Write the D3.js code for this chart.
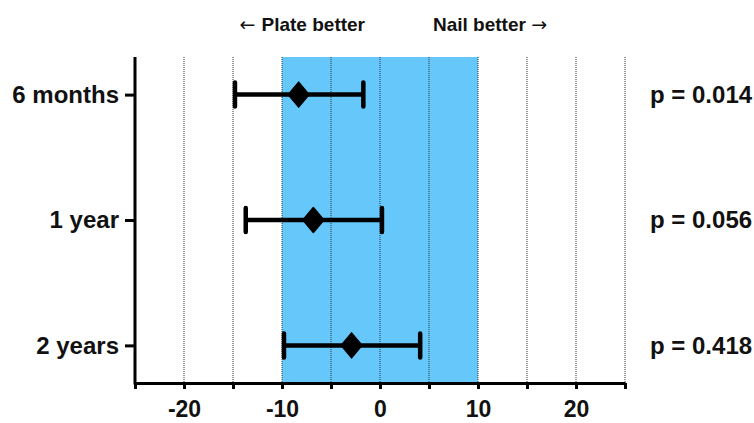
<!DOCTYPE html>
<html>
<head>
<meta charset="utf-8">
<script src="https://cdn.jsdelivr.net/npm/d3@7"></script>
<style>
  body { margin: 0; background: #fff; }
  svg text { font-family: "Liberation Sans", Arial, Helvetica, sans-serif; font-weight: bold; fill: #111; }
</style>
</head>
<body>
<div id="vis"></div>
<script>

var width = 754;
var height = 423;

// data
var periods = ['6 months', '1 year', '2 years'];
var means   = [-8.3, -6.8, -2.9];
var lower   = [-14.8, -13.7, -9.8];
var upper   = [-1.7, 0.2, 4.1];
var pValues = ['p = 0.014', 'p = 0.056', 'p = 0.418'];

var xDomain = [-25, 25];
var xTicks = d3.range(-25, 26, 5);
var band = [-10, 10];

var margin = { top: 57, left: 135, right: 129, bottom: 40 };
var plotBottom = 383;

var svg = d3.select('#vis')
    .append('svg')
    .attr('width', width)
    .attr('height', height);

var x = d3.scaleLinear()
    .domain(xDomain)
    .range([margin.left, width - margin.right]);

var y = d3.scalePoint()
    .domain(periods)
    .range([margin.top, plotBottom])
    .padding(0.3);

var rows = periods.map(function (p, i) {
    return { name: p, mean: means[i], lo: lower[i], hi: upper[i], p: pValues[i] };
});

// shaded equivalence band
svg.append('rect')
    .attr('x', x(band[0]))
    .attr('y', margin.top)
    .attr('width', x(band[1]) - x(band[0]))
    .attr('height', plotBottom - margin.top)
    .attr('fill', '#66c7fa');

// dotted grid lines
svg.selectAll('.grid')
    .data(xTicks.filter(function (d) { return d > xDomain[0]; }))
    .enter().append('line')
    .attr('class', 'grid')
    .attr('x1', function (d) { return x(d); })
    .attr('x2', function (d) { return x(d); })
    .attr('y1', margin.top)
    .attr('y2', plotBottom)
    .attr('stroke', '#333')
    .attr('stroke-width', 1)
    .attr('stroke-dasharray', '1,1');

// x axis
var xAxis = svg.append('g')
    .attr('transform', 'translate(0,' + plotBottom + ')')
    .call(d3.axisBottom(x)
        .tickValues(xTicks)
        .tickSize(6)
        .tickSizeOuter(0)
        .tickPadding(12)
        .tickFormat(function (d) { return (d % 10 === 0) ? d : ''; }));

xAxis.select('.domain').attr('stroke', '#000').attr('stroke-width', 3);
xAxis.selectAll('.tick line').attr('stroke', '#000').attr('stroke-width', 3);
xAxis.selectAll('.tick text')
    .attr('font-size', '23px')
    .text(function (d) { return (d % 10 === 0) ? String(d) : ''; });

// y axis
var yAxis = svg.append('g')
    .attr('transform', 'translate(' + margin.left + ',0)')
    .call(d3.axisLeft(y).tickSize(10).tickPadding(6));

yAxis.select('.domain').remove();
yAxis.append('line')
    .attr('x1', 0).attr('x2', 0)
    .attr('y1', margin.top).attr('y2', plotBottom + 1.5)
    .attr('stroke', '#000')
    .attr('stroke-width', 3);
yAxis.selectAll('.tick line').attr('stroke', '#000').attr('stroke-width', 3);
yAxis.selectAll('.tick text').attr('font-size', '24px');

// error bars
var bars = svg.selectAll('.bar')
    .data(rows)
    .enter().append('g')
    .attr('class', 'bar');

bars.append('line')
    .attr('x1', function (d) { return x(d.lo); })
    .attr('x2', function (d) { return x(d.hi); })
    .attr('y1', function (d) { return y(d.name); })
    .attr('y2', function (d) { return y(d.name); })
    .attr('stroke', '#000')
    .attr('stroke-width', 4.5);

['lo', 'hi'].forEach(function (k) {
    bars.append('line')
        .attr('x1', function (d) { return x(d[k]); })
        .attr('x2', function (d) { return x(d[k]); })
        .attr('y1', function (d) { return y(d.name) - 12; })
        .attr('y2', function (d) { return y(d.name) + 12; })
        .attr('stroke', '#000')
        .attr('stroke-width', 4.5)
        .attr('stroke-linecap', 'round');
});

// diamonds for mean differences
bars.append('path')
    .attr('d', 'M0,-12.5L10.5,0L0,12.5L-10.5,0Z')
    .attr('transform', function (d) { return 'translate(' + x(d.mean) + ',' + y(d.name) + ')'; })
    .attr('fill', '#000')
    .attr('stroke', '#000')
    .attr('stroke-linejoin', 'round')
    .attr('stroke-width', 1.5);

// p values on the right
svg.selectAll('.pval')
    .data(rows)
    .enter().append('text')
    .attr('class', 'pval')
    .attr('x', 650)
    .attr('y', function (d) { return y(d.name); })
    .attr('dy', '0.35em')
    .attr('font-size', '24px')
    .text(function (d) { return d.p; });

// direction labels
var left = svg.append('text')
    .attr('x', 365)
    .attr('y', 31)
    .attr('text-anchor', 'end')
    .attr('font-size', '19px');
left.append('tspan')
    .style('font-family', 'DejaVu Sans')
    .style('font-weight', 'normal')
    .text('\u2190 ');
left.append('tspan').text('Plate better');

var right = svg.append('text')
    .attr('x', 433)
    .attr('y', 31)
    .attr('font-size', '19px');
right.append('tspan').text('Nail better ');
right.append('tspan')
    .style('font-family', 'DejaVu Sans')
    .style('font-weight', 'normal')
    .text('\u2192');

</script>
</body>
</html>
